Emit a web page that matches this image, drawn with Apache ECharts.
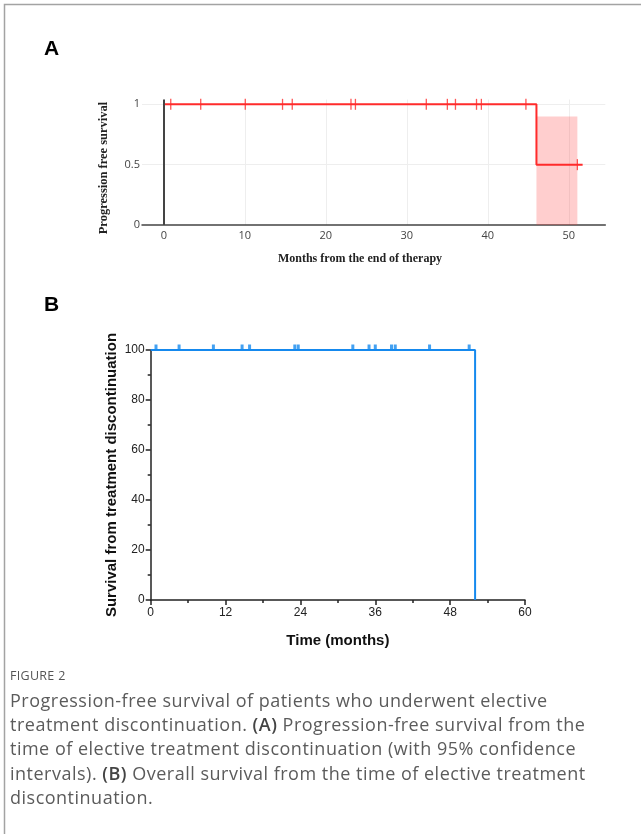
<!DOCTYPE html>
<html>
<head>
<meta charset="utf-8">
<script src="https://cdn.jsdelivr.net/npm/echarts@6/dist/echarts.min.js"></script>
<style>
  html, body { margin: 0; padding: 0; background: #fff; }
  #wrap { position: relative; width: 641px; height: 834px; overflow: hidden; }
  #main { width: 641px; height: 834px; }
  #caption {
    position: absolute; left: 10px; top: 664px; width: 625px;
    font-family: "Open Sans", sans-serif; color: #5b5b5b;
  }
  #caption .fig { font-size: 12.5px; letter-spacing: 0.3px; line-height: 24px; color: #555; }
  #caption .txt { font-size: 18px; letter-spacing: 0.5px; line-height: 24.2px; white-space: nowrap; }
  #caption b { color: #444; font-weight: 600; }
</style>
</head>
<body>
<div id="wrap">
  <div id="main"></div>
  <div id="caption"></div>
</div>
<script>
// panel A: progression free survival (Kaplan-Meier step)
const timesA = [0, 46.0, 51.7];
const survA = [1, 0.5, 0.5];
// censored times (shared by both panels)
const censorTimes = [0.85, 4.55, 10.05, 14.65, 15.85, 23.1, 23.65, 32.4, 35.0, 36.0, 38.6, 39.2, 44.7, 51.05];
const censorSurvA = [1, 1, 1, 1, 1, 1, 1, 1, 1, 1, 1, 1, 1, 0.5];
// 95% confidence band after the event
const ciStart = 46.0;
const ciEnd = 51.05;
const ciLower = 0;
const ciUpper = 0.9;

// panel B: overall survival
const timesB = [0, 52.0];
const survB = [100, 0];
const censorSurvB = [100, 100, 100, 100, 100, 100, 100, 100, 100, 100, 100, 100, 100, 100];

const captionLines = [
  'Progression-free survival of patients who underwent elective',
  'treatment discontinuation. <b>(A)</b> Progression-free survival from the',
  'time of elective treatment discontinuation (with 95% confidence',
  'intervals). <b>(B)</b> Overall survival from the time of elective treatment',
  'discontinuation.'
];

const pair = (xs, ys) => xs.map((x, i) => [x, ys[i]]);

// caption below the chart
document.getElementById('caption').innerHTML =
  '<div class="fig">FIGURE 2</div>' +
  captionLines.map(t => '<div class="txt">' + t + '</div>').join('');

const chart = echarts.init(document.getElementById('main'));

chart.setOption({
  backgroundColor: '#fff',
  animation: false,
  graphic: [
    { type: 'rect', shape: { x: 4.5, y: 4.5, width: 700, height: 900 }, style: { fill: 'none', stroke: '#a3a3a3', lineWidth: 1.5 } },
    { type: 'text', left: 44, top: 39, style: { text: 'A', font: 'bold 21px "Liberation Sans"', fill: '#000' } },
    { type: 'text', left: 44, top: 295, style: { text: 'B', font: 'bold 21px "Liberation Sans"', fill: '#000' } },
    { type: 'text', x: 360, y: 259, style: { text: 'Months from the end of therapy', font: 'bold 12px "Liberation Serif"', fill: '#222', align: 'center', verticalAlign: 'middle' } },
    { type: 'text', x: 103.5, y: 168, rotation: Math.PI / 2, style: { text: 'Progression free survival', font: 'bold 12.5px "Liberation Serif"', fill: '#222', align: 'center', verticalAlign: 'middle' } }
  ],
  grid: [
    { left: 142, top: 99.5, width: 463.3, height: 125.5 },
    { left: 150.7, top: 350, width: 374.3, height: 250 }
  ],
  xAxis: [
    {
      gridIndex: 0, type: 'value', min: -2.7, max: 54.5, splitNumber: 5,
      axisLine: { show: true, onZero: false, lineStyle: { color: '#444', width: 1.5 } },
      axisTick: { show: false },
      axisLabel: { margin: 5, fontSize: 11, color: '#444', fontFamily: 'Open Sans', showMinLabel: false, showMaxLabel: false },
      splitLine: { show: true, showMinLine: false, showMaxLine: false, lineStyle: { color: '#eeeeee', width: 1 } }
    },
    {
      gridIndex: 1, type: 'value', min: 0, max: 60, interval: 12,
      name: 'Time (months)', nameLocation: 'middle', nameGap: 33,
      nameTextStyle: { fontSize: 15, fontWeight: 'bold', color: '#111', fontFamily: 'Liberation Sans' },
      axisLine: { show: true, onZero: false, lineStyle: { color: '#222', width: 1.5 } },
      axisTick: { show: true, length: 5, lineStyle: { color: '#222', width: 1.5 } },
      minorTick: { show: true, splitNumber: 2, length: 3, lineStyle: { color: '#222', width: 1.5 } },
      axisLabel: { margin: 7, fontSize: 12, color: '#222', fontFamily: 'Liberation Sans' },
      splitLine: { show: false }
    }
  ],
  yAxis: [
    {
      gridIndex: 0, type: 'value', min: 0, max: 1.04, interval: 0.5,
      axisLine: { show: false },
      axisTick: { show: false },
      axisLabel: { margin: 2, fontSize: 11, color: '#444', fontFamily: 'Open Sans', showMaxLabel: false },
      splitLine: { show: true, showMinLine: false, showMaxLine: false, lineStyle: { color: '#eeeeee', width: 1 } }
    },
    {
      gridIndex: 1, type: 'value', min: 0, max: 100, interval: 20,
      name: 'Survival from treatment discontinuation', nameLocation: 'middle', nameGap: 31,
      nameMoveOverlap: false,
      nameTextStyle: { fontSize: 15, fontWeight: 'bold', color: '#111', fontFamily: 'Liberation Sans' },
      axisLine: { show: true, onZero: false, lineStyle: { color: '#222', width: 1.5 } },
      axisTick: { show: true, length: 5, lineStyle: { color: '#222', width: 1.5 } },
      minorTick: { show: true, splitNumber: 2, length: 3, lineStyle: { color: '#222', width: 1.5 } },
      axisLabel: { margin: 6, fontSize: 12, color: '#222', fontFamily: 'Liberation Sans' },
      splitLine: { show: false }
    }
  ],
  series: [
    {
      type: 'line', xAxisIndex: 0, yAxisIndex: 0, step: 'end',
      data: pair(timesA, survA), symbol: 'none', clip: false,
      lineStyle: { color: '#ff2b2b', width: 2 },
      markArea: {
        silent: true,
        itemStyle: { color: 'rgba(255, 60, 60, 0.25)' },
        data: [[{ xAxis: ciStart, yAxis: ciLower }, { xAxis: ciEnd, yAxis: ciUpper }]]
      },
      markLine: {
        silent: true, symbol: ['none', 'none'], label: { show: false },
        lineStyle: { color: '#444', width: 2, type: 'solid' },
        data: [{ xAxis: 0 }]
      },
      z: 3
    },
    {
      type: 'scatter', xAxisIndex: 0, yAxisIndex: 0,
      data: pair(censorTimes, censorSurvA), symbol: 'rect', symbolSize: [1.3, 11],
      itemStyle: { color: '#ff2b2b' }, clip: false, z: 4
    },
    {
      type: 'line', xAxisIndex: 1, yAxisIndex: 1, step: 'end',
      data: pair(timesB, survB), symbol: 'none', clip: false,
      lineStyle: { color: '#1589ee', width: 2 }, z: 3
    },
    {
      type: 'scatter', xAxisIndex: 1, yAxisIndex: 1,
      data: pair(censorTimes, censorSurvB), symbol: 'rect', symbolSize: [3, 5], symbolOffset: [0, -3],
      itemStyle: { color: '#1589ee' }, clip: false, z: 4
    }
  ]
});
</script>
</body>
</html>
